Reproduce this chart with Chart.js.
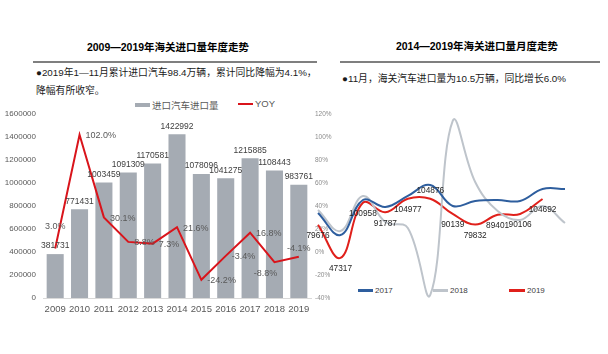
<!DOCTYPE html>
<html>
<head>
<meta charset="utf-8">
<script src="https://cdn.jsdelivr.net/npm/chart.js"></script>
<style>
  html, body { margin: 0; padding: 0; background: #fff; }
  body { width: 608px; height: 354px; position: relative; overflow: hidden;
         font-family: "Liberation Sans", "Noto Sans CJK SC", sans-serif; }
  .abs { position: absolute; white-space: nowrap; }
  .title { font-family: "Liberation Sans", "Noto Sans CJK SC", sans-serif; font-weight: bold; font-size: 10.5px; color: #000; transform: translateX(-50%); }
  .rule { position: absolute; height: 2px; background: #7f7f7f; }
  .txt { font-family: "Liberation Sans", "Noto Sans CJK SC", sans-serif; font-size: 9.8px; color: #1a1a1a; line-height: 18px; }
  .leg { font-size: 9.5px; color: #595959; display: flex; align-items: center; }
  .sw { display: inline-block; margin-right: 2px; }
  canvas { position: absolute; }
</style>
</head>
<body>
<div class="abs title" style="left:168px; top:39px;">2009—2019年海关进口量年度走势</div>
<div class="abs title" style="left:477px; top:38px;">2014—2019年海关进口量月度走势</div>
<div class="rule" style="left:33px; top:61px; width:284px;"></div>
<div class="rule" style="left:340px; top:61px; width:260px;"></div>
<div class="abs txt" style="left:36px; top:64px;">●2019年1—11月累计进口汽车98.4万辆，累计同比降幅为4.1%，<br>降幅有所收窄。</div>
<div class="abs txt" style="left:342px; top:70px;">●11月，海关汽车进口量为10.5万辆，同比增长6.0%</div>

<div class="abs leg" style="left:135px; top:98px;"><span class="sw" style="width:15px;height:4px;background:#a5abb3;"></span><span>进口汽车进口量</span></div>
<div class="abs leg" style="left:238px; top:98px;"><span class="sw" style="width:15px;height:2px;background:#d9141b;"></span><span>YOY</span></div>

<div class="abs leg" style="left:358px; top:286px; font-size:8px; color:#404040;"><span class="sw" style="width:15px;height:2.5px;background:#2e5e9e;"></span><span>2017</span></div>
<div class="abs leg" style="left:433px; top:286px; font-size:8px; color:#404040;"><span class="sw" style="width:15px;height:2.5px;background:#bec4cb;"></span><span>2018</span></div>
<div class="abs leg" style="left:509px; top:286px; font-size:8px; color:#404040;"><span class="sw" style="width:16px;height:2.5px;background:#e0201b;"></span><span>2019</span></div>

<canvas id="left" width="320" height="220" style="left:0px; top:100px;"></canvas>
<canvas id="right" width="308" height="220" style="left:300px; top:100px;"></canvas>

<script>
// ---------- data ----------
const years = ['2009','2010','2011','2012','2013','2014','2015','2016','2017','2018','2019'];
const importVolume = [381731, 771431, 1003459, 1091309, 1170581, 1422992, 1078096, 1041275, 1215885, 1108443, 983761];
const yoyPct = [3.0, 102.0, 30.1, 8.8, 7.3, 21.6, -24.2, -3.4, 16.8, -8.8, -4.1];
const volumeTicks = [0, 200000, 400000, 600000, 800000, 1000000, 1200000, 1400000, 1600000];

const months = ['1月','2月','3月','4月','5月','6月','7月','8月','9月','10月','11月','12月'];
const monthly2017 = [91000, 69700, 103700, 96900, 107600, 118300, 97900, 102700, 103700, 102700, 114400, 114400];
const monthly2018 = [94000, 73600, 107600, 82300, 76500, 11400, 180500, 121200, 93000, 84300, 97900, 81300];
const monthly2019 = [79676, 47317, 100958, 91787, 104977, 104876, 90139, 79832, 89401, 90106, 104692];
const pctTicks = [-40, -20, 0, 20, 40, 60, 80, 100, 120];

// ---------- label plugin ----------
const PLACES = {
  top:    { dx: 0,  dy: -8,  align: 'center' },
  topFar: { dx: 0,  dy: -22, align: 'center' },
  bottom: { dx: 0,  dy: 11,  align: 'center' },
  bottomLeft: { dx: -9, dy: 11, align: 'center' },
  right:  { dx: 6,  dy: 1,   align: 'left' }
};
const valueLabels = {
  id: 'valueLabels',
  afterDatasetsDraw(chart) {
    const ctx = chart.ctx;
    chart.data.datasets.forEach((ds, di) => {
      const cfg = ds.valueLabels;
      if (!cfg) return;
      const meta = chart.getDatasetMeta(di);
      ctx.save();
      ctx.font = cfg.font;
      ctx.fillStyle = cfg.color;
      ctx.textBaseline = 'middle';
      meta.data.forEach((el, i) => {
        const p = PLACES[(cfg.place && cfg.place[i]) || cfg.defaultPlace];
        ctx.textAlign = p.align;
        ctx.fillText(cfg.format(ds.data[i]), el.x + p.dx, el.y + p.dy);
      });
      ctx.restore();
    });
  }
};

const FONT = '"Liberation Sans", "Noto Sans CJK SC", sans-serif';

// ---------- left chart ----------
new Chart(document.getElementById('left'), {
  type: 'bar',
  data: {
    labels: years,
    datasets: [
      {
        type: 'line', label: 'YOY', data: yoyPct, yAxisID: 'y1',
        borderColor: '#d9141b', borderWidth: 2, pointRadius: 0, tension: 0, order: 0,
        valueLabels: {
          font: '9px ' + FONT, color: '#595959', format: v => v.toFixed(1) + '%',
          defaultPlace: 'right',
          place: ['topFar', 'right', 'right', 'right', 'right', 'right', 'right', 'right', 'right', 'bottomLeft', 'top']
        }
      },
      {
        type: 'bar', label: '进口汽车进口量', data: importVolume, yAxisID: 'y',
        backgroundColor: '#a5abb3', categoryPercentage: 1, barPercentage: 0.7, order: 1,
        valueLabels: { font: '8.5px ' + FONT, color: '#404040', format: v => String(v), defaultPlace: 'top' }
      }
    ]
  },
  options: {
    responsive: false, animation: false, devicePixelRatio: 1,
    layout: { padding: { top: 14, right: 9, bottom: 2, left: 0 } },
    plugins: { legend: { display: false }, tooltip: { enabled: false } },
    scales: {
      x: {
        grid: { display: false, drawTicks: false },
        border: { display: true, color: '#d9d9d9', width: 1 },
        ticks: { font: { size: 9.5, family: FONT }, color: '#595959', padding: 6, maxRotation: 0 },
        afterFit: s => { s.height = 20; }
      },
      y: {
        min: 0, max: 1600000,
        afterBuildTicks: s => { s.ticks = volumeTicks.map(v => ({ value: v })); },
        grid: { display: false, drawTicks: false },
        border: { display: false },
        ticks: { font: { size: 8, family: FONT }, color: '#595959', padding: 7, callback: v => String(v) },
        afterFit: s => { s.width = 43; }
      },
      y1: { min: -40, max: 120, display: false }
    }
  },
  plugins: [valueLabels]
});

// ---------- right chart ----------
new Chart(document.getElementById('right'), {
  type: 'line',
  data: {
    labels: months,
    datasets: [
      { label: '2017', data: monthly2017, yAxisID: 'yv', borderColor: '#2e5e9e', borderWidth: 2, pointRadius: 0, tension: 0.4 },
      { label: '2018', data: monthly2018, yAxisID: 'yv', borderColor: '#bec4cb', borderWidth: 2, pointRadius: 0, tension: 0.4 },
      { label: '2019', data: monthly2019, yAxisID: 'yv', borderColor: '#e0201b', borderWidth: 2, pointRadius: 0, tension: 0.4,
        valueLabels: {
          font: '8.3px ' + FONT, color: '#262626', format: v => String(v), defaultPlace: 'bottom',
          place: ['bottom', 'bottom', 'bottom', 'bottom', 'bottom', 'top']
        }
      }
    ]
  },
  options: {
    responsive: false, animation: false, devicePixelRatio: 1,
    layout: { padding: { top: 14, right: 43, bottom: 22, left: 18 } },
    plugins: { legend: { display: false }, tooltip: { enabled: false } },
    elements: { line: { capBezierPoints: false } },
    scales: {
      x: { display: false },
      y: {
        min: -40, max: 120, position: 'left',
        afterBuildTicks: s => { s.ticks = pctTicks.map(v => ({ value: v })); },
        grid: { display: false, drawTicks: false },
        border: { display: false },
        ticks: { mirror: true, padding: -1, font: { size: 6.5, family: FONT }, color: '#8c8c8c', callback: v => v + '%' }
      },
      yv: { min: 8400, max: 187300, display: false }
    }
  },
  plugins: [valueLabels]
});
</script>
</body>
</html>
